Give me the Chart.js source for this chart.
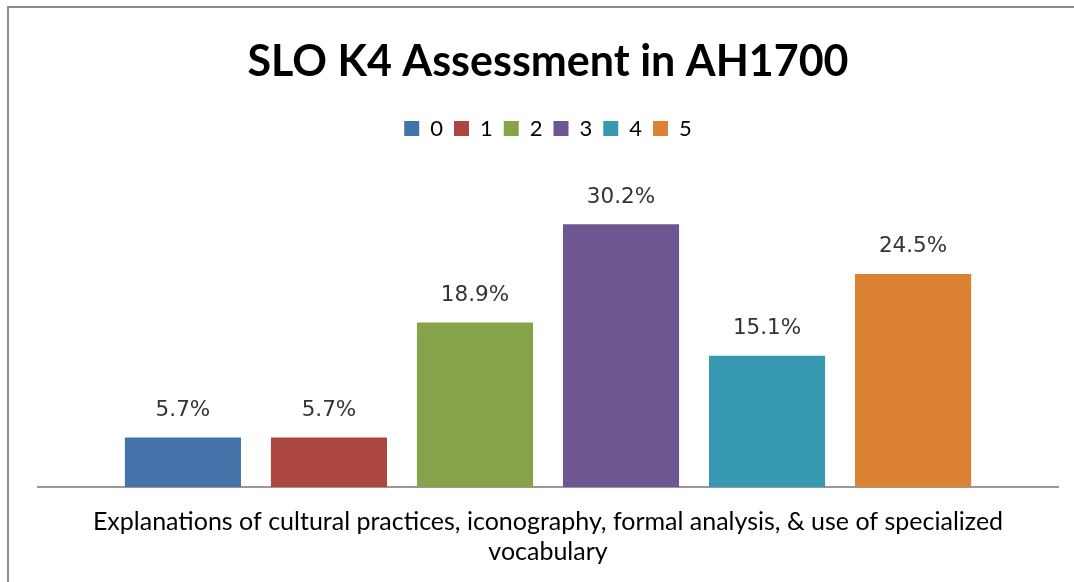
<!DOCTYPE html>
<html>
<head>
<meta charset="utf-8">
<script src="https://cdn.jsdelivr.net/npm/chart.js@4/dist/chart.umd.min.js"></script>
<style>
  html, body { margin: 0; padding: 0; background: #fff; }
  #wrap { position: relative; width: 1074px; height: 582px; }
  #frame { position: absolute; left: 7px; top: 6px; right: 0; bottom: 0;
           border-top: 2px solid #8c8c8c; border-left: 2px solid #8c8c8c; pointer-events: none; }
</style>
</head>
<body>
<div id="wrap">
  <canvas id="chart" width="1074" height="582"></canvas>
  <div id="frame"></div>
</div>
<script>
const categories = [["Explanations of cultural practices, iconography, formal analysis, & use of specialized", "vocabulary"]];
const scoreLabels = ["0", "1", "2", "3", "4", "5"];
const percents = [5.7, 5.7, 18.9, 30.2, 15.1, 24.5];
const barColors = ["#4373A8", "#AC4740", "#87A34A", "#6E5790", "#3799B1", "#DC8235"];

// draw the percent labels above each bar
const valueLabels = {
    id: 'valueLabels',
    afterDatasetsDraw(chart) {
        const ctx = chart.ctx;
        ctx.save();
        ctx.font = '21.5px "DejaVu Sans"';
        ctx.fillStyle = '#333';
        ctx.textAlign = 'center';
        ctx.textBaseline = 'middle';
        chart.data.datasets.forEach((ds, i) => {
            chart.getDatasetMeta(i).data.forEach((bar, j) => {
                ctx.fillText(ds.data[j].toFixed(1) + '%', bar.x, bar.y - 27);
            });
        });
        ctx.restore();
    }
};

// extra room under the legend
const legendGap = {
    id: 'legendGap',
    beforeInit(chart) {
        const fit = chart.legend.fit;
        chart.legend.fit = function () {
            fit.call(this);
            this.height += 33;
        };
    }
};

const datasets = scoreLabels.map((s, i) => ({
    label: s,
    data: [percents[i]],
    backgroundColor: barColors[i],
    borderWidth: 0
}));

new Chart(document.getElementById('chart'), {
    type: 'bar',
    data: { labels: categories, datasets: datasets },
    plugins: [valueLabels, legendGap],
    options: {
        responsive: false,
        animation: false,
        categoryPercentage: 0.859,
        barPercentage: 0.795,
        layout: { padding: { left: 38, right: 16, top: 26, bottom: -5 } },
        plugins: {
            title: {
                display: true,
                text: 'SLO K4 Assessment in AH1700',
                color: '#000',
                font: { family: 'Lato', size: 43, weight: 'bold' },
                padding: { top: 10, bottom: 19 }
            },
            legend: {
                position: 'top',
                labels: {
                    color: '#000',
                    boxWidth: 15,
                    boxHeight: 15,
                    padding: 11,
                    font: { family: 'Lato', size: 22 }
                }
            },
            tooltip: { enabled: false }
        },
        scales: {
            x: {
                grid: { display: false, drawTicks: false },
                border: { display: true, color: '#999', width: 2 },
                ticks: {
                    color: '#000',
                    padding: 20,
                    maxRotation: 0,
                    font: { family: 'Lato', size: 25, lineHeight: 1.2 }
                }
            },
            y: {
                display: false,
                min: 0,
                max: 35
            }
        }
    }
});
</script>
</body>
</html>
